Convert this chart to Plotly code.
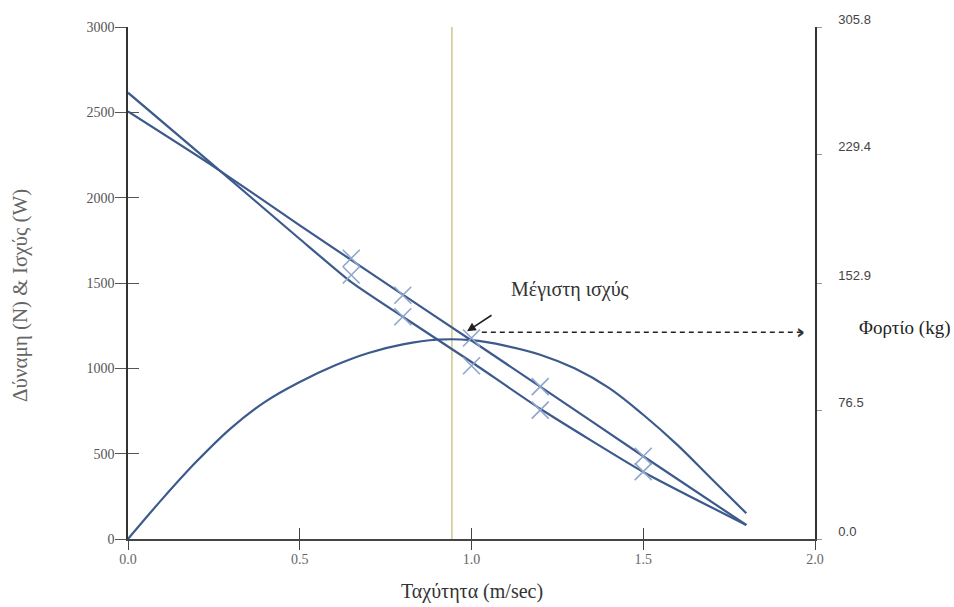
import plotly.graph_objects as go

# ---- data ----
speed_a = [0.0, 0.24, 0.5, 0.8, 1.0, 1.2, 1.5, 1.8]
force_a = [2505, 2195, 1838, 1432, 1163, 893, 485, 82]

speed_b = [0.0, 0.24, 0.5, 0.65, 0.8, 1.0, 1.2, 1.5, 1.8]
force_b = [2615, 2205, 1758, 1505, 1302, 1037, 763, 393, 82]

speed_p = [0.0, 0.1, 0.2, 0.3, 0.4, 0.5, 0.6, 0.7, 0.8, 0.9, 1.0, 1.1, 1.2, 1.3, 1.4, 1.5, 1.6, 1.7, 1.8]
power_p = [0, 235, 455, 650, 805, 920, 1015, 1090, 1140, 1168, 1165, 1132, 1080, 1000, 885, 728, 550, 350, 151]

marker_speed = [0.65, 0.8, 1.0, 1.2, 1.5]
marker_a = [1645, 1428, 1178, 893, 485]
marker_b = [1547, 1302, 1015, 755, 395]

max_power_speed = 0.943
load_level = 1211
load_arrow_x = [1.03, 1.965]
arrow_head = (0.987, 1217)
label_pos = (1.287, 1462)

x_ticks = [0.0, 0.5, 1.0, 1.5, 2.0]
x_ticklabels = ["0.0", "0.5", "1.0", "1.5", "2.0"]
y_ticks = [0, 500, 1000, 1500, 2000, 2500, 3000]
kg_ticks = [0.0, 76.5, 152.9, 229.4, 305.8]
kg_ticklabels = ["0.0", "76.5", "152.9", "229.4", "305.8"]

LINE = "#3c5a8c"
MARK = "#8fa6cc"
SERIF = "Liberation Serif, Times New Roman, serif"

fig = go.Figure()

# vertical line at max power speed
fig.add_trace(go.Scatter(x=[max_power_speed, max_power_speed], y=[0, 3000], mode="lines",
                         line=dict(color="#c4bf78", width=1.3), hoverinfo="skip", showlegend=False))

fig.add_trace(go.Scatter(x=speed_a, y=force_a, mode="lines",
                         line=dict(color=LINE, width=2.2, shape="spline", smoothing=0.5), showlegend=False))
fig.add_trace(go.Scatter(x=speed_b, y=force_b, mode="lines",
                         line=dict(color=LINE, width=2.2, shape="spline", smoothing=0.5), showlegend=False))
fig.add_trace(go.Scatter(x=speed_p, y=power_p, mode="lines",
                         line=dict(color=LINE, width=2.2, shape="spline", smoothing=1.0), showlegend=False))

fig.add_trace(go.Scatter(x=marker_speed, y=marker_a, mode="markers",
                         marker=dict(symbol="x-thin-open", size=17, color=MARK, line=dict(color=MARK, width=1.6)),
                         showlegend=False))
fig.add_trace(go.Scatter(x=marker_speed, y=marker_b, mode="markers",
                         marker=dict(symbol="x-thin-open", size=17, color=MARK, line=dict(color=MARK, width=1.6)),
                         showlegend=False))

# dashed load line
fig.add_trace(go.Scatter(x=load_arrow_x, y=[load_level, load_level], mode="lines",
                         line=dict(color="#222222", width=1.5, dash="5px,4px"), showlegend=False))

# dummy traces for overlay axes (crossing ticks)
fig.add_trace(go.Scatter(x=[None], y=[None], xaxis="x2", yaxis="y3", showlegend=False))
fig.add_trace(go.Scatter(x=[None], y=[None], xaxis="x", yaxis="y2", showlegend=False))

ann = []
# open arrowhead at the end of dashed line
ann.append(dict(x=load_arrow_x[1], y=load_level, xref="x", yref="y", text="<b>›</b>", showarrow=False,
                font=dict(size=22, color="#333", family="DejaVu Sans"), xanchor="right", yanchor="middle",
                yshift=1, xshift=4))
# arrow to max power
ann.append(dict(x=arrow_head[0], y=arrow_head[1], xref="x", yref="y", ax=26, ay=-17, showarrow=True,
                arrowhead=2, arrowsize=1.1, arrowwidth=1.6, arrowcolor="#222", text=""))
ann.append(dict(x=label_pos[0], y=label_pos[1], xref="x", yref="y", text="Μέγιστη ισχύς", showarrow=False,
                xanchor="center", yanchor="middle", font=dict(family=SERIF, size=20, color="#333")))
ann.append(dict(x=1.131, y=0.4117, xref="paper", yref="paper", text="Φορτίο (kg)", showarrow=False,
                xanchor="center", yanchor="middle", font=dict(family=SERIF, size=19, color="#222")))
ann.append(dict(x=0.5, y=0, xref="paper", yref="paper", yshift=-52, text="Ταχύτητα (m/sec)", showarrow=False,
                xanchor="center", yanchor="middle", font=dict(family=SERIF, size=20, color="#333")))
ann.append(dict(x=-0.157, y=0.475, xref="paper", yref="paper", text="Δύναμη (N) & Ισχύς (W)", textangle=-90,
                xanchor="center", yanchor="middle", showarrow=False, font=dict(family=SERIF, size=21, color="#666")))

fig.update_layout(
    width=954, height=607,
    margin=dict(l=128, r=139, t=24, b=68),
    paper_bgcolor="white", plot_bgcolor="white",
    showlegend=False,
    annotations=ann,
    xaxis=dict(range=[0, 2], tickvals=x_ticks, ticktext=x_ticklabels, ticks="outside", ticklen=9,
               tickcolor="#444", showline=True, linecolor="#444", linewidth=1.5, showgrid=False, zeroline=False,
               tickfont=dict(family=SERIF, size=14, color="#666"), ticklabelstandoff=-3),
    xaxis2=dict(range=[0, 2], overlaying="x", anchor="y", side="bottom", tickvals=x_ticks[1:4], ticks="inside",
                ticklen=11, tickcolor="#444", showticklabels=False, showline=False, showgrid=False, zeroline=False),
    yaxis=dict(range=[0, 3000], tickvals=y_ticks, ticks="outside", ticklen=11, tickcolor="#555",
               showline=True, linecolor="#333", linewidth=1.5, showgrid=False, zeroline=False,
               tickfont=dict(family=SERIF, size=14, color="#555"), ticklabelstandoff=-2),
    yaxis3=dict(range=[0, 3000], overlaying="y", anchor="x", side="left", tickvals=y_ticks[1:], ticks="inside",
                ticklen=11, tickcolor="#555", showticklabels=False, showline=False, showgrid=False, zeroline=False),
    yaxis2=dict(range=[0, 305.8], overlaying="y", anchor="x", side="right", tickvals=kg_ticks, ticktext=kg_ticklabels,
                ticks="outside", ticklen=5, tickcolor="#999", showline=True, linecolor="#333", linewidth=1.5,
                showgrid=False, zeroline=False,
                tickfont=dict(family="Liberation Sans, Arial, sans-serif", size=13, color="#444"),
                ticklabelstandoff=14, ticklabelshift=-8),
)

fig.write_html("out.html")
